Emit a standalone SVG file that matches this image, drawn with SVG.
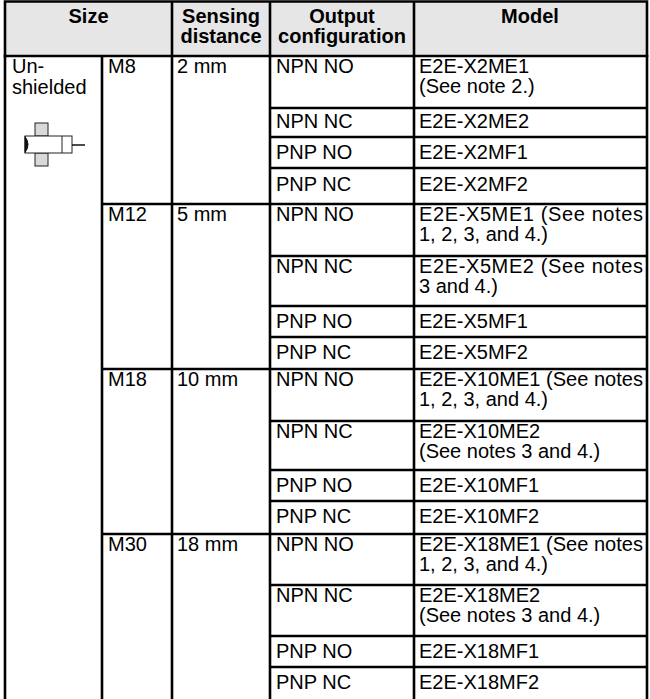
<svg xmlns="http://www.w3.org/2000/svg" width="650" height="699" viewBox="0 0 650 699">
<style>
text{font-family:"Liberation Sans",Arial,sans-serif;font-size:20px;fill:#000}
.h{font-weight:bold;font-size:20px;text-anchor:middle}
.ln{stroke:#000;stroke-width:2.6;fill:none}
.ic{stroke:#222;stroke-width:1}
</style>
<rect x="0" y="0" width="650" height="699" fill="#fff"/>
<rect x="5" y="1.5" width="642" height="54.5" fill="#e6e6e6"/>
<g id="header">
<text class="h" x="88.5" y="23">Size</text>
<text class="h" x="221" y="23">Sensing</text>
<text class="h" x="221" y="43">distance</text>
<text class="h" x="342" y="23">Output</text>
<text class="h" x="342" y="43">configuration</text>
<text class="h" x="530" y="23">Model</text>
</g>
<g id="unshielded">
<text x="12" y="73">Un-</text>
<text x="12" y="94">shielded</text>
<g id="icon">
<rect class="ic" x="35" y="123" width="13" height="13" fill="#d9d9d9"/>
<rect class="ic" x="35" y="153" width="13" height="13" fill="#d9d9d9"/>
<rect class="ic" x="25" y="136" width="47" height="17" fill="#fff"/>
<line class="ic" x1="62" y1="136" x2="62" y2="153"/>
<path d="M25,136.5 Q31,144.5 25,152.5 Z" fill="#111" stroke="#111" stroke-width="1"/>
<line x1="72" y1="145" x2="85" y2="145" stroke="#111" stroke-width="1.5"/>
</g>
</g>
<g id="m8">
<text x="108" y="73">M8</text>
<text x="177" y="73">2 mm</text>
<text x="276" y="73">NPN NO</text>
<text x="419" y="73">E2E-X2ME1</text>
<text x="419" y="93"> (See note 2.)</text>
<text x="276" y="128">NPN NC</text>
<text x="419" y="128">E2E-X2ME2</text>
<text x="276" y="159">PNP NO</text>
<text x="419" y="159">E2E-X2MF1</text>
<text x="276" y="191">PNP NC</text>
<text x="419" y="191">E2E-X2MF2</text>
</g>
<g id="m12">
<text x="108" y="221">M12</text>
<text x="177" y="221">5 mm</text>
<text x="276" y="221">NPN NO</text>
<text x="419" y="221" textLength="224" lengthAdjust="spacing">E2E-X5ME1 (See notes</text>
<text x="419" y="241">1, 2, 3, and 4.)</text>
<text x="276" y="273">NPN NC</text>
<text x="419" y="273" textLength="224" lengthAdjust="spacing">E2E-X5ME2 (See notes</text>
<text x="419" y="293">3 and 4.)</text>
<text x="276" y="328">PNP NO</text>
<text x="419" y="328">E2E-X5MF1</text>
<text x="276" y="359">PNP NC</text>
<text x="419" y="359">E2E-X5MF2</text>
</g>
<g id="m18">
<text x="108" y="386">M18</text>
<text x="177" y="386">10 mm</text>
<text x="276" y="386">NPN NO</text>
<text x="419" y="386" textLength="224" lengthAdjust="spacingAndGlyphs">E2E-X10ME1 (See notes</text>
<text x="419" y="406">1, 2, 3, and 4.)</text>
<text x="276" y="438">NPN NC</text>
<text x="419" y="438">E2E-X10ME2</text>
<text x="419" y="458">(See notes 3 and 4.)</text>
<text x="276" y="492">PNP NO</text>
<text x="419" y="492">E2E-X10MF1</text>
<text x="276" y="523">PNP NC</text>
<text x="419" y="523">E2E-X10MF2</text>
</g>
<g id="m30">
<text x="108" y="551">M30</text>
<text x="177" y="551">18 mm</text>
<text x="276" y="551">NPN NO</text>
<text x="419" y="551" textLength="224" lengthAdjust="spacingAndGlyphs">E2E-X18ME1 (See notes</text>
<text x="419" y="571">1, 2, 3, and 4.)</text>
<text x="276" y="602">NPN NC</text>
<text x="419" y="602">E2E-X18ME2</text>
<text x="419" y="622">(See notes 3 and 4.)</text>
<text x="276" y="658">PNP NO</text>
<text x="419" y="658">E2E-X18MF1</text>
<text x="276" y="689">PNP NC</text>
<text x="419" y="689">E2E-X18MF2</text>
</g>
<g id="grid" class="ln">
<path d="M5,702 V1.5 H647 V702"/>
<line x1="3.7" y1="56" x2="648.3" y2="56"/>
<line x1="102" y1="56" x2="102" y2="702"/>
<line x1="172" y1="1.5" x2="172" y2="702"/>
<line x1="270" y1="1.5" x2="270" y2="702"/>
<line x1="414" y1="1.5" x2="414" y2="702"/>
<line x1="270" y1="108" x2="647" y2="108"/>
<line x1="270" y1="137" x2="647" y2="137"/>
<line x1="270" y1="168" x2="647" y2="168"/>
<line x1="102" y1="204" x2="647" y2="204"/>
<line x1="270" y1="256" x2="647" y2="256"/>
<line x1="270" y1="306" x2="647" y2="306"/>
<line x1="270" y1="337" x2="647" y2="337"/>
<line x1="102" y1="369" x2="647" y2="369"/>
<line x1="270" y1="421" x2="647" y2="421"/>
<line x1="270" y1="470" x2="647" y2="470"/>
<line x1="270" y1="501" x2="647" y2="501"/>
<line x1="102" y1="534" x2="647" y2="534"/>
<line x1="270" y1="585" x2="647" y2="585"/>
<line x1="270" y1="636" x2="647" y2="636"/>
<line x1="270" y1="667" x2="647" y2="667"/>
</g>
</svg>
